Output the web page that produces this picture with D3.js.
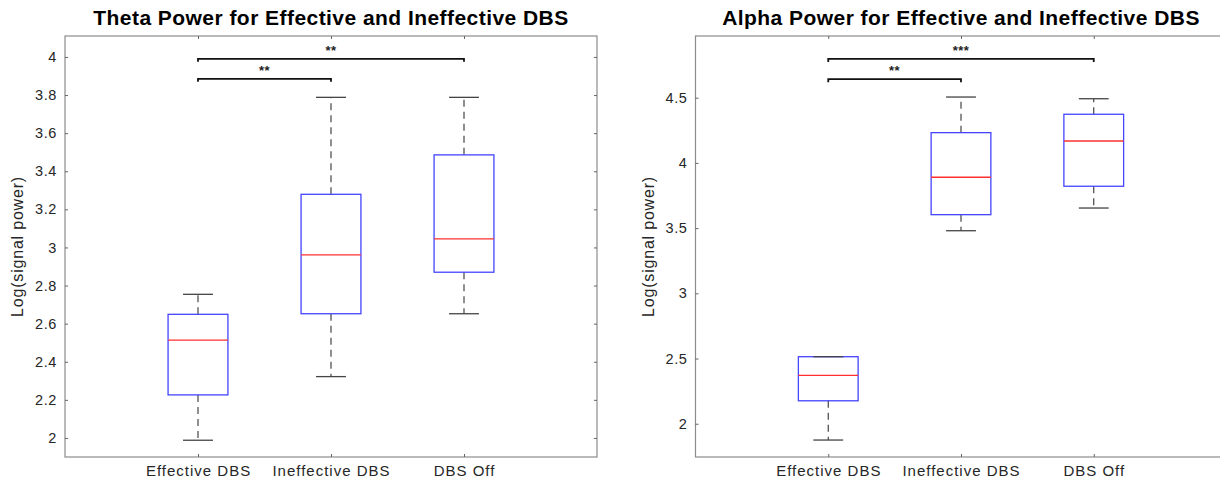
<!DOCTYPE html>
<html>
<head>
<meta charset="utf-8">
<script src="https://cdn.jsdelivr.net/npm/d3@7"></script>
<style>
  html, body { margin: 0; padding: 0; background: #fff; }
  svg { display: block; }
  text { font-family: "Liberation Sans", Arial, Helvetica, sans-serif; }
</style>
</head>
<body>
<svg id="chart" width="1220" height="483"></svg>
<script>
// Group names shared by both panels
const categories = ["Effective DBS", "Ineffective DBS", "DBS Off"];

// Theta band: five-number summaries per group
const thetaMin    = [1.988, 2.322, 2.652];
const thetaQ1     = [2.226, 2.652, 2.870];
const thetaMedian = [2.513, 2.961, 3.045];
const thetaQ3     = [2.649, 3.279, 3.486];
const thetaMax    = [2.754, 3.788, 3.788];
const thetaTicks  = [2, 2.2, 2.4, 2.6, 2.8, 3, 3.2, 3.4, 3.6, 3.8, 4];
const thetaSig    = [
  { from: 0, to: 1, y: 3.885, label: "**" },
  { from: 0, to: 2, y: 3.990, label: "**" }
];

// Alpha band: five-number summaries per group
const alphaMin    = [1.875, 3.480, 3.654];
const alphaQ1     = [2.176, 3.603, 3.821];
const alphaMedian = [2.371, 3.890, 4.168];
const alphaQ3     = [2.514, 4.232, 4.373];
const alphaMax    = [2.514, 4.505, 4.492];
const alphaTicks  = [2, 2.5, 3, 3.5, 4, 4.5];
const alphaSig    = [
  { from: 0, to: 1, y: 4.642, label: "**" },
  { from: 0, to: 2, y: 4.797, label: "***" }
];

const svg = d3.select("#chart");

function drawPanel(cfg) {
  const g = svg.append("g");
  const x = d3.scaleLinear().domain([0, categories.length + 1]).range([cfg.left, cfg.right]);
  const y = d3.scaleLinear().domain(cfg.yDomain).range([cfg.bottom, cfg.top]);

  const boxes = categories.map((c, i) => ({
    name: c, pos: i + 1,
    min: cfg.min[i], q1: cfg.q1[i], med: cfg.median[i], q3: cfg.q3[i], max: cfg.max[i]
  }));

  const boxW = 0.45, capW = 0.225;

  // Axes frame
  g.append("rect")
    .attr("x", cfg.left).attr("y", cfg.top)
    .attr("width", cfg.right - cfg.left).attr("height", cfg.bottom - cfg.top)
    .attr("fill", "none").attr("stroke", "#8c8c8c").attr("stroke-width", 1.2);

  // Y axis (ticks point inward, labels outside)
  const yAxis = d3.axisLeft(y).tickValues(cfg.ticks).tickSize(-3).tickPadding(8)
    .tickFormat(d3.format("~g"));
  const ya = g.append("g").attr("transform", `translate(${cfg.left},0)`).call(yAxis);
  ya.select(".domain").remove();
  ya.selectAll(".tick line").attr("stroke", "#666");
  ya.selectAll(".tick text").attr("fill", "#262626")
    .style("font-size", "14.5px").style("letter-spacing", "0.6px");
  // mirrored right-side ticks
  const yr = g.append("g").attr("transform", `translate(${cfg.right},0)`)
    .call(d3.axisRight(y).tickValues(cfg.ticks).tickSize(-3).tickFormat(""));
  yr.select(".domain").remove();
  yr.selectAll(".tick line").attr("stroke", "#666");

  // X axis
  const xAxis = d3.axisBottom(x).tickValues(boxes.map(b => b.pos)).tickSize(-3).tickPadding(8)
    .tickFormat((d, i) => categories[i]);
  const xa = g.append("g").attr("transform", `translate(0,${cfg.bottom})`).call(xAxis);
  xa.select(".domain").remove();
  xa.selectAll(".tick line").attr("stroke", "#666");
  xa.selectAll(".tick text").attr("fill", "#262626")
    .style("font-size", "15px").style("letter-spacing", "1px");
  const xt = g.append("g").attr("transform", `translate(0,${cfg.top})`)
    .call(d3.axisTop(x).tickValues(boxes.map(b => b.pos)).tickSize(-3).tickFormat(""));
  xt.select(".domain").remove();
  xt.selectAll(".tick line").attr("stroke", "#666");

  const bx = g.selectAll(".box").data(boxes).enter().append("g").attr("class", "box");

  // dashed whiskers
  bx.append("line")
    .attr("x1", d => x(d.pos)).attr("x2", d => x(d.pos))
    .attr("y1", d => y(d.q3)).attr("y2", d => y(d.max))
    .attr("stroke", "#333").attr("stroke-width", 1.1).attr("stroke-dasharray", "7,5");
  bx.append("line")
    .attr("x1", d => x(d.pos)).attr("x2", d => x(d.pos))
    .attr("y1", d => y(d.q1)).attr("y2", d => y(d.min))
    .attr("stroke", "#333").attr("stroke-width", 1.1).attr("stroke-dasharray", "7,5");

  // box bodies
  bx.append("rect")
    .attr("x", d => x(d.pos - boxW / 2)).attr("width", d => x(d.pos + boxW / 2) - x(d.pos - boxW / 2))
    .attr("y", d => y(d.q3)).attr("height", d => y(d.q1) - y(d.q3))
    .attr("fill", "none").attr("stroke", "#4444ff").attr("stroke-width", 1.3);

  // whisker caps
  ["min", "max"].forEach(k => {
    bx.append("line")
      .attr("x1", d => x(d.pos - capW / 2)).attr("x2", d => x(d.pos + capW / 2))
      .attr("y1", d => y(d[k])).attr("y2", d => y(d[k]))
      .attr("stroke", "#444").attr("stroke-width", 1.3);
  });

  // medians
  bx.append("line")
    .attr("x1", d => x(d.pos - boxW / 2)).attr("x2", d => x(d.pos + boxW / 2))
    .attr("y1", d => y(d.med)).attr("y2", d => y(d.med))
    .attr("stroke", "#ff3030").attr("stroke-width", 1.3);

  // significance brackets
  const sg = g.selectAll(".sig").data(cfg.sig).enter().append("g").attr("class", "sig");
  sg.append("path")
    .attr("d", d => {
      const x1 = x(d.from + 1), x2 = x(d.to + 1), yy = y(d.y);
      return `M${x1},${yy + 3}V${yy}H${x2}V${yy + 3}`;
    })
    .attr("fill", "none").attr("stroke", "#111").attr("stroke-width", 1.8);
  sg.append("text")
    .attr("x", d => (x(d.from + 1) + x(d.to + 1)) / 2)
    .attr("y", d => y(d.y) - 4)
    .attr("text-anchor", "middle")
    .attr("fill", "#222").style("font-size", "13px").style("font-weight", "bold")
    .style("letter-spacing", "0.5px")
    .text(d => d.label);

  // title
  g.append("text")
    .attr("x", (cfg.left + cfg.right) / 2).attr("y", 25)
    .attr("text-anchor", "middle").attr("fill", "#000")
    .style("font-size", "21px").style("font-weight", "bold").style("letter-spacing", "0.45px")
    .text(cfg.title);

  // y label
  g.append("text")
    .attr("transform", `translate(${cfg.left - 42},${(cfg.top + cfg.bottom) / 2}) rotate(-90)`)
    .attr("text-anchor", "middle").attr("fill", "#262626")
    .style("font-size", "16px").style("letter-spacing", "0.8px")
    .text("Log(signal power)");
}

drawPanel({
  left: 65, right: 597, top: 36, bottom: 457,
  yDomain: [1.900, 4.110], ticks: thetaTicks,
  min: thetaMin, q1: thetaQ1, median: thetaMedian, q3: thetaQ3, max: thetaMax,
  sig: thetaSig, title: "Theta Power for Effective and Ineffective DBS"
});

drawPanel({
  left: 695.5, right: 1226.5, top: 36, bottom: 457,
  yDomain: [1.745, 4.973], ticks: alphaTicks,
  min: alphaMin, q1: alphaQ1, median: alphaMedian, q3: alphaQ3, max: alphaMax,
  sig: alphaSig, title: "Alpha Power for Effective and Ineffective DBS"
});
</script>
</body>
</html>
